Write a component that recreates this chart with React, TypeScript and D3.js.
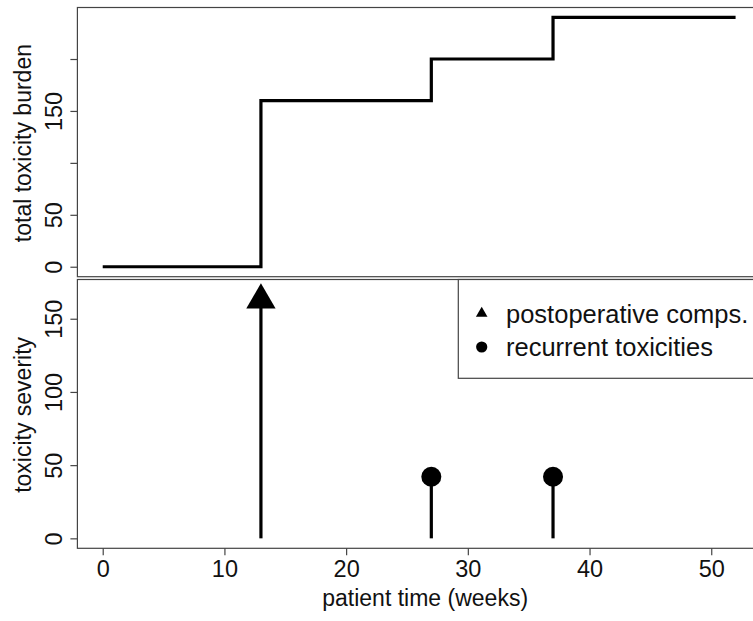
import React, { useRef, useEffect } from "react";
import { select, scaleLinear, axisLeft, axisBottom, line, curveStepAfter, symbol, symbolTriangle } from "d3";

// data
const weeks = [0, 13, 27, 37, 52];
const burden = [0, 160, 200, 240, 240];
const eventWeeks = [13, 27, 37];
const severity = [160, 40, 40];
const eventType = ["postop", "recurrent", "recurrent"];
const xTicks = [0, 10, 20, 30, 40, 50];
const topTicks = [0, 50, 100, 150, 200];
const topTickLabels = ["0", "50", "", "150", ""];
const bottomTicks = [0, 50, 100, 150];
const legendLabels = ["postoperative comps.", "recurrent toxicities"];

const W = 753;
const H = 621;
const FONT = "'Liberation Sans', Arial, Helvetica, sans-serif";

const App = () => {
  const svgRef = useRef<SVGSVGElement>(null);

  useEffect(() => {
    const svg = select(svgRef.current);
    svg.selectAll("*").remove();

    // scales (R style 4% padding)
    const xScale = scaleLinear().domain([-2.08, 54.08]).range([77.4, 760.9]);
    const yTop = scaleLinear().domain([-9.6, 249.6]).range([276.7, 7.5]);
    const yBot = scaleLinear().domain([-6.8, 176.8]).range([548.3, 279.5]);

    const [x0, x1] = xScale.range();

    //boxes
    const drawBox = (y: any) => {
      const [b, t] = y.range();
      svg
        .append("rect")
        .attr("x", x0)
        .attr("y", t)
        .attr("width", x1 - x0)
        .attr("height", b - t)
        .attr("fill", "none")
        .attr("stroke", "#444")
        .attr("stroke-width", 1.2);
    };
    drawBox(yTop);
    drawBox(yBot);

    // y axes with rotated labels
    const drawY = (y: any, ticks: number[], labels: string[]) => {
      const g = svg
        .append("g")
        .attr("transform", `translate(${x0},0)`)
        .call(
          axisLeft(y)
            .tickValues(ticks)
            .tickSize(7)
            .tickFormat((d, i) => labels[i])
        );
      g.select(".domain").remove();
      g.selectAll(".tick line").attr("stroke", "#444").attr("stroke-width", 1.2);
      g.selectAll(".tick text")
        .attr("transform", "rotate(-90)")
        .attr("x", 0)
        .attr("y", -15.5)
        .attr("dy", 0)
        .attr("text-anchor", "middle")
        .attr("font-family", FONT)
        .attr("font-size", 23.5)
        .attr("fill", "#111");
    };
    drawY(yTop, topTicks, topTickLabels);
    drawY(yBot, bottomTicks, bottomTicks.map(String));

    // x axis
    const xAxis = svg
      .append("g")
      .attr("transform", `translate(0,${yBot.range()[0]})`)
      .call(axisBottom(xScale).tickValues(xTicks).tickSize(7).tickPadding(5));
    xAxis.select(".domain").remove();
    xAxis.selectAll(".tick line").attr("stroke", "#444").attr("stroke-width", 1.2);
    xAxis
      .selectAll(".tick text")
      .attr("y", 29)
      .attr("dy", 0)
      .attr("font-family", FONT)
      .attr("font-size", 23.5)
      .attr("fill", "#111");

    // axis titles
    const title = (txt: string, x: number, y: number, rot: boolean) =>
      svg
        .append("text")
        .attr("transform", `translate(${x},${y})${rot ? " rotate(-90)" : ""}`)
        .attr("text-anchor", "middle")
        .attr("font-family", FONT)
        .attr("font-size", 23)
        .attr("fill", "#111")
        .text(txt);
    title("total toxicity burden", 31, (yTop.range()[0] + yTop.range()[1]) / 2 + 1, true);
    title("toxicity severity", 31, (yBot.range()[0] + yBot.range()[1]) / 2 + 1, true);
    title("patient time (weeks)", (x0 + x1) / 2 + 6, 606, false);

    // step line
    const steps = line<number>()
      .x((d, i) => xScale(weeks[i]))
      .y((d) => yTop(d))
      .curve(curveStepAfter);
    svg
      .append("path")
      .attr("d", steps(burden))
      .attr("fill", "none")
      .attr("stroke", "#000")
      .attr("stroke-width", 3.2);

    // stems
    svg
      .selectAll(".stem")
      .data(severity)
      .join("line")
      .attr("class", "stem")
      .attr("x1", (d, i) => xScale(eventWeeks[i]))
      .attr("x2", (d, i) => xScale(eventWeeks[i]))
      .attr("y1", yBot(0))
      .attr("y2", (d) => yBot(d))
      .attr("stroke", "#000")
      .attr("stroke-width", 3.2);

    const tri = symbol().type(symbolTriangle).size(372);

    // markers
    svg
      .selectAll(".mark")
      .data(severity)
      .join("path")
      .attr("class", "mark")
      .attr("transform", (d, i) => `translate(${xScale(eventWeeks[i])},${yBot(d) - (eventType[i] === "postop" ? 4 : 3)})`)
      .attr("d", (d, i) =>
        eventType[i] === "postop" ? tri() : symbol().size(Math.PI * 10 * 10)()
      )
      .attr("fill", "#000");

    // legend
    const ly = yBot.range()[1];
    svg
      .append("rect")
      .attr("x", 458.3)
      .attr("y", ly)
      .attr("width", x1 - 458.3)
      .attr("height", 98.8)
      .attr("fill", "#fff")
      .attr("stroke", "#444")
      .attr("stroke-width", 1.2);
    legendLabels.forEach((lab, i) => {
      const cy = ly + 34 + i * 33.5;
      svg
        .append("path")
        .attr("transform", `translate(481.7,${cy})`)
        .attr("d", i === 0 ? symbol().type(symbolTriangle).size(58)() : symbol().size(Math.PI * 5.6 * 5.6)())
        .attr("fill", "#000");
      svg
        .append("text")
        .attr("x", 506)
        .attr("y", cy + 9)
        .attr("font-family", FONT)
        .attr("font-size", 25.5)
        .attr("fill", "#111")
        .text(lab);
    });
  }, []);

  return (
    <svg
      ref={svgRef}
      width={W}
      height={H}
      style={{ position: "absolute", left: 0, top: 0, background: "#fff" }}
    />
  );
};

export default App;
